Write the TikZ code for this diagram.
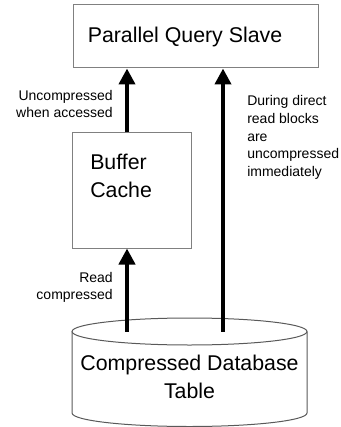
\documentclass[tikz,border=0pt]{standalone}
\usepackage{fontspec}
\setmainfont{Liberation Sans}
\usepackage{tikz}
\usetikzlibrary{arrows.meta}

\begin{document}
\begin{tikzpicture}[x=0.75pt,y=-0.75pt,
    box/.style={draw=gray, line width=0.75pt, inner sep=0pt},
    bigtext/.style={font=\fontsize{16}{21}\selectfont},
    note/.style={font=\fontsize{10.5}{13.2}\selectfont, inner sep=0pt},
    flow/.style={line width=3.4pt, -{Triangle[length=12pt,width=12pt]}}]

  \useasboundingbox (0,0) rectangle (341,427);

  % boxes
  \node[box, minimum width=183.75pt, minimum height=47.25pt] (slave) at (195.5,36.5) {};
  \node[bigtext, inner sep=0pt] (slavetext) at (185,36.5) {Parallel Query Slave};
  \node[box, minimum width=89.25pt, minimum height=86.25pt] (cache) at (131.5,190.5) {};
  \node[bigtext, inner sep=0pt, anchor=west, align=left] (cachetext) at (90,176) {Buffer\\Cache};

  % database
  \coordinate (dbtop) at (189.5,331.5);
  \draw[gray!70!black, line width=0.75pt] (dbtop) ellipse[x radius=117.5, y radius=13.5];
  \draw[gray!70!black, line width=0.75pt] (72,331.5) -- (72,413) arc[start angle=180, end angle=0, x radius=117.5, y radius=13.5] -- (307,331.5);
  \node[bigtext, align=center] (db) at (189.5,377) {Compressed Database\\Table};

  % lanes
  \coordinate (lane1) at (127,0);
  \coordinate (lane2) at (223,0);

  \draw[flow] (cache.north -| lane1) -- (slave.south -| lane1);
  \draw[flow] (dbtop -| lane1) -- (cache.south -| lane1);
  \draw[flow] (dbtop -| lane2) -- (slave.south -| lane2);

  \node[note, anchor=east, align=right] (upnote) at (113,104) {Uncompressed\\when accessed};
  \node[note, anchor=east, align=right] (readnote) at (113,287.5) {Read\\compressed};
  \node[note, anchor=west, align=left] (directnote) at (247,137.5) {During direct\\read blocks\\are\\uncompressed\\immediately};

\end{tikzpicture}
\end{document}
